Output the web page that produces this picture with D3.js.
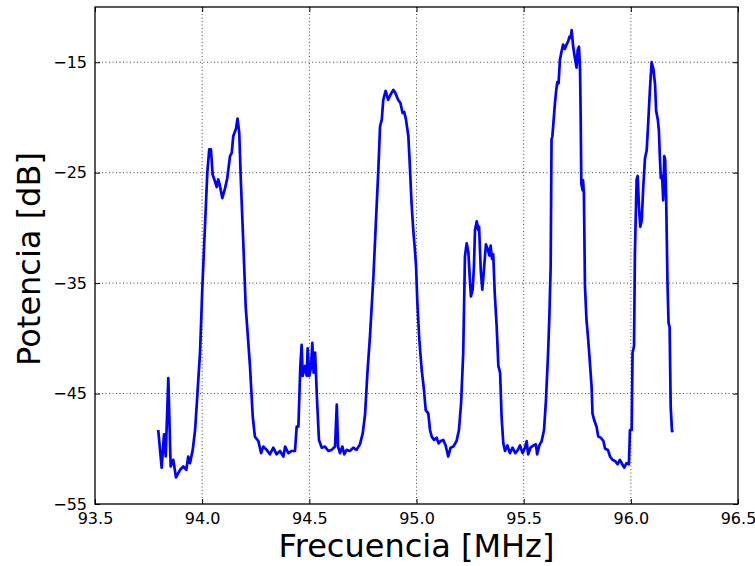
<!DOCTYPE html>
<html>
<head>
<meta charset="utf-8">
<script src="https://cdn.jsdelivr.net/npm/d3@7.9.0/dist/d3.min.js"></script>
<style>
  body { margin: 0; background: #fff; }
  svg text { font-family: "DejaVu Sans", sans-serif; fill: #000; }
</style>
</head>
<body>
<svg id="chart" width="755" height="566"></svg>
<script>
const freq = [
  93.795, 93.811, 93.822, 93.830, 93.842, 93.853, 93.865, 93.878, 93.897, 93.912,
  93.926, 93.935, 93.943, 93.956, 93.967, 93.977, 93.990, 94.001, 94.013, 94.024,
  94.033, 94.041, 94.049, 94.060, 94.068, 94.075, 94.083, 94.094, 94.107, 94.117,
  94.130, 94.138, 94.145, 94.158, 94.165, 94.173, 94.181, 94.192, 94.203, 94.212,
  94.223, 94.236, 94.246, 94.262, 94.275, 94.285, 94.301, 94.316, 94.332, 94.347,
  94.363, 94.379, 94.387, 94.402, 94.418, 94.433, 94.441, 94.449, 94.458, 94.464,
  94.469, 94.480, 94.488, 94.492, 94.500, 94.508, 94.514, 94.520, 94.527, 94.536,
  94.545, 94.558, 94.573, 94.589, 94.604, 94.620, 94.628, 94.634, 94.643, 94.654,
  94.663, 94.674, 94.689, 94.705, 94.720, 94.736, 94.749, 94.760, 94.771, 94.783,
  94.799, 94.811, 94.822, 94.830, 94.838, 94.845, 94.856, 94.868, 94.880, 94.892,
  94.902, 94.914, 94.925, 94.935, 94.943, 94.951, 94.962, 94.969, 94.977, 94.985,
  94.993, 94.998, 95.004, 95.013, 95.024, 95.035, 95.043, 95.055, 95.063, 95.071,
  95.082, 95.094, 95.103, 95.113, 95.125, 95.136, 95.148, 95.159, 95.172, 95.187,
  95.198, 95.208, 95.218, 95.226, 95.234, 95.242, 95.250, 95.254, 95.262, 95.268,
  95.273, 95.281, 95.288, 95.292, 95.300, 95.307, 95.315, 95.324, 95.332, 95.340,
  95.346, 95.352, 95.358, 95.365, 95.374, 95.382, 95.390, 95.397, 95.405, 95.413,
  95.424, 95.436, 95.448, 95.461, 95.473, 95.483, 95.495, 95.506, 95.514, 95.521,
  95.532, 95.545, 95.557, 95.563, 95.573, 95.584, 95.595, 95.604, 95.614, 95.620,
  95.626, 95.630, 95.634, 95.646, 95.651, 95.657, 95.663, 95.669, 95.677, 95.684,
  95.692, 95.700, 95.708, 95.713, 95.719, 95.724, 95.731, 95.739, 95.747, 95.752,
  95.758, 95.763, 95.766, 95.769, 95.775, 95.777, 95.781, 95.786, 95.793, 95.801,
  95.809, 95.817, 95.821, 95.829, 95.840, 95.848, 95.860, 95.872, 95.880, 95.893,
  95.903, 95.914, 95.926, 95.938, 95.949, 95.960, 95.969, 95.980, 95.991, 95.996,
  96.004, 96.008, 96.015, 96.019, 96.027, 96.032, 96.038, 96.044, 96.051, 96.058,
  96.066, 96.074, 96.081, 96.089, 96.097, 96.105, 96.113, 96.118, 96.126, 96.131,
  96.135, 96.140, 96.146, 96.151, 96.156, 96.160, 96.165, 96.171, 96.176, 96.181,
  96.186, 96.192, 96.198
];
const power = [
  -48.3, -51.7, -48.7, -50.7, -43.6, -51.6, -51.0, -52.6, -51.9, -51.6,
  -51.9, -50.7, -51.3, -50.1, -48.3, -45.3, -41.3, -35.3, -29.9, -25.0,
  -22.9, -22.9, -25.2, -25.8, -26.3, -25.6, -26.2, -27.3, -26.4, -25.5,
  -23.5, -23.2, -21.7, -21.0, -20.1, -21.4, -26.0, -31.4, -37.1, -39.5,
  -42.5, -47.1, -48.9, -49.3, -50.4, -49.8, -50.1, -50.5, -49.9, -50.5,
  -50.2, -50.7, -49.8, -50.4, -50.2, -50.2, -48.0, -48.0, -42.5, -40.6,
  -43.4, -42.5, -43.4, -40.9, -43.4, -42.6, -40.4, -43.1, -41.3, -45.6,
  -49.2, -49.9, -49.8, -50.2, -50.1, -49.8, -46.0, -49.8, -50.4, -49.8,
  -50.5, -50.1, -50.2, -49.9, -50.1, -49.6, -48.6, -46.9, -43.1, -39.8,
  -34.4, -29.3, -24.7, -20.8, -20.2, -18.4, -17.6, -18.4, -17.9, -17.5,
  -17.8, -18.4, -18.7, -19.6, -19.5, -20.2, -21.7, -24.4, -27.8, -30.2,
  -32.1, -33.5, -36.8, -40.1, -42.8, -44.7, -46.5, -46.8, -48.3, -48.9,
  -49.2, -49.0, -49.5, -49.3, -49.2, -49.7, -50.7, -49.9, -49.8, -49.3,
  -48.3, -45.9, -41.3, -32.6, -31.4, -32.2, -35.0, -36.2, -35.6, -33.5,
  -30.2, -29.4, -30.2, -29.9, -33.9, -35.6, -33.7, -31.5, -31.9, -32.5,
  -31.6, -32.8, -32.4, -35.9, -38.9, -42.5, -43.1, -47.1, -49.5, -50.2,
  -49.7, -50.4, -49.9, -50.4, -50.1, -49.7, -50.4, -49.9, -49.3, -50.5,
  -49.9, -49.7, -49.6, -50.5, -49.7, -49.3, -48.3, -45.6, -41.3, -38.0,
  -33.5, -22.0, -21.7, -18.7, -17.7, -16.8, -16.9, -14.8, -14.0, -13.4,
  -13.8, -13.4, -13.1, -12.7, -12.8, -12.1, -13.6, -14.6, -15.5, -13.9,
  -13.6, -15.6, -19.9, -26.0, -26.6, -25.7, -26.9, -35.3, -38.3, -40.1,
  -42.2, -44.4, -46.8, -47.4, -48.0, -48.9, -49.0, -49.3, -50.0, -50.1,
  -50.7, -51.0, -51.1, -51.4, -51.0, -51.4, -51.7, -51.3, -51.4, -48.3,
  -48.3, -41.3, -40.7, -32.3, -25.6, -25.3, -28.1, -29.9, -29.3, -26.3,
  -23.7, -23.0, -20.5, -17.5, -15.0, -15.6, -17.0, -19.4, -20.2, -21.2,
  -23.4, -25.5, -25.3, -27.5, -23.5, -23.8, -27.5, -35.0, -38.6, -39.0,
  -46.2, -48.4, -48.3
];
const xTicks = [93.5, 94.0, 94.5, 95.0, 95.5, 96.0, 96.5];
const yTicks = [-55, -45, -35, -25, -15];

const margin = { top: 7, right: 17, bottom: 62, left: 95 };
const width = 755 - margin.left - margin.right;
const height = 566 - margin.top - margin.bottom;

const svg = d3.select('#chart');
const g = svg.append('g').attr('transform', `translate(${margin.left},${margin.top})`);

const x = d3.scaleLinear().domain([93.5, 96.5]).range([0, width]);
const y = d3.scaleLinear().domain([-55, -10]).range([height, 0]);

// dotted grid
g.append('g')
  .selectAll('line')
  .data(xTicks.slice(1, -1))
  .join('line')
  .attr('x1', d => x(d)).attr('x2', d => x(d))
  .attr('y1', 0).attr('y2', height)
  .attr('stroke', '#444').attr('stroke-width', 1)
  .attr('stroke-dasharray', '1,2.5');

g.append('g')
  .selectAll('line')
  .data(yTicks.slice(1))
  .join('line')
  .attr('x1', 0).attr('x2', width)
  .attr('y1', d => y(d)).attr('y2', d => y(d))
  .attr('stroke', '#444').attr('stroke-width', 1)
  .attr('stroke-dasharray', '1,2.5');

// axes: inward ticks, labels
const fmtX = d3.format('.1f');
const fmtY = d => d3.format('d')(d).replace('-', '\u2212');

const xAxis = g.append('g')
  .attr('transform', `translate(0,${height})`)
  .call(d3.axisBottom(x).tickValues(xTicks).tickFormat(fmtX).tickSizeInner(-5).tickSizeOuter(0).tickPadding(9));
const xAxisTop = g.append('g')
  .call(d3.axisTop(x).tickValues(xTicks).tickFormat('').tickSizeInner(-5).tickSizeOuter(0));
const yAxis = g.append('g')
  .call(d3.axisLeft(y).tickValues(yTicks).tickFormat(fmtY).tickSizeInner(-5).tickSizeOuter(0).tickPadding(8));
const yAxisRight = g.append('g')
  .attr('transform', `translate(${width},0)`)
  .call(d3.axisRight(y).tickValues(yTicks).tickFormat('').tickSizeInner(-5).tickSizeOuter(0));

[xAxis, xAxisTop, yAxis, yAxisRight].forEach(a => {
  a.select('.domain').remove();
  a.selectAll('line').attr('stroke', '#000');
  a.selectAll('text').attr('font-size', 16).attr('font-family', 'DejaVu Sans');
});

// spectrum trace
const line = d3.line().x((d, i) => x(freq[i])).y(d => y(d));
g.append('path')
  .datum(power)
  .attr('d', line)
  .attr('fill', 'none')
  .attr('stroke', '#0000ff')
  .attr('stroke-width', 2.7)
  .attr('stroke-linejoin', 'round');

// frame
g.append('rect')
  .attr('width', width).attr('height', height)
  .attr('fill', 'none').attr('stroke', '#000').attr('stroke-width', 1.3);

// axis titles
svg.append('text')
  .attr('x', margin.left + width / 2).attr('y', 557)
  .attr('text-anchor', 'middle').attr('font-size', 32)
  .text('Frecuencia [MHz]');

svg.append('text')
  .attr('transform', `translate(39.5,259) rotate(-90)`)
  .attr('text-anchor', 'middle').attr('font-size', 32)
  .text('Potencia [dB]');
</script>
</body>
</html>
